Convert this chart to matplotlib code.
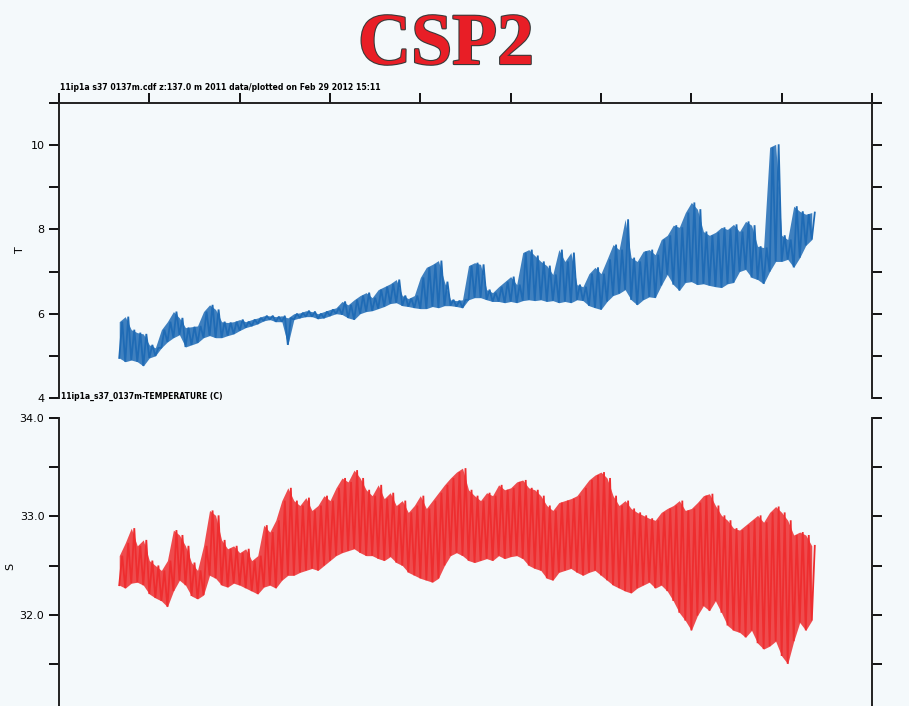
"""Mooring time series at 137 m: temperature (top) and salinity (bottom)."""

import numpy as np
import matplotlib
matplotlib.use('Agg')
import matplotlib.pyplot as plt
import matplotlib.patheffects as pe
from matplotlib.ticker import FixedLocator, FormatStrFormatter

# Sampling: one low/high pair every 2 days, starting day 20 of the record
day = np.arange(116) * 2.0 + 20

# Temperature (C): lower and upper envelope of the tidal signal per sample
t_low = [4.95, 4.86, 4.90, 4.86, 4.76, 4.95, 5.00, 5.19, 5.33, 5.43,
         5.50, 5.21, 5.26, 5.31, 5.43, 5.48, 5.43, 5.43, 5.48, 5.52,
         5.60, 5.67, 5.71, 5.76, 5.83, 5.86, 5.81, 5.81, 5.26, 5.86,
         5.90, 5.93, 5.93, 5.88, 5.90, 5.95, 6.00, 5.98, 5.90, 5.86,
         6.00, 6.05, 6.07, 6.12, 6.17, 6.24, 6.26, 6.19, 6.17, 6.14,
         6.12, 6.12, 6.17, 6.14, 6.19, 6.19, 6.17, 6.14, 6.33, 6.38,
         6.38, 6.33, 6.29, 6.29, 6.26, 6.29, 6.26, 6.31, 6.33, 6.31,
         6.33, 6.29, 6.31, 6.26, 6.29, 6.26, 6.33, 6.31, 6.19, 6.14,
         6.10, 6.29, 6.43, 6.48, 6.57, 6.33, 6.21, 6.33, 6.40, 6.38,
         6.67, 6.93, 6.69, 6.55, 6.74, 6.76, 6.69, 6.71, 6.67, 6.64,
         6.62, 6.71, 6.74, 7.00, 7.05, 6.86, 6.81, 6.71, 7.00, 7.24,
         7.24, 7.29, 7.10, 7.33, 7.62, 7.76]
t_high = [5.81, 5.93, 5.62, 5.55, 5.52, 5.26, 5.19, 5.62, 5.81, 6.05,
          5.90, 5.67, 5.69, 5.71, 6.05, 6.21, 6.10, 5.81, 5.79, 5.81,
          5.86, 5.81, 5.86, 5.90, 5.95, 5.95, 5.93, 5.95, 5.90, 6.00,
          6.02, 6.07, 6.05, 6.00, 6.05, 6.10, 6.14, 6.29, 6.21, 6.33,
          6.43, 6.50, 6.38, 6.57, 6.64, 6.71, 6.81, 6.43, 6.36, 6.43,
          6.86, 7.10, 7.17, 7.26, 6.76, 6.33, 6.31, 6.33, 7.14, 7.21,
          7.17, 6.57, 6.50, 6.64, 6.76, 6.88, 6.69, 7.45, 7.52, 7.38,
          7.24, 7.14, 6.93, 7.52, 7.24, 7.45, 6.69, 6.64, 6.95, 7.10,
          6.95, 7.29, 7.64, 7.52, 8.24, 7.33, 7.24, 7.48, 7.52, 7.40,
          7.76, 7.86, 8.10, 8.05, 8.40, 8.64, 8.48, 7.95, 7.86, 7.93,
          8.05, 8.00, 8.12, 7.95, 8.19, 8.10, 7.60, 7.57, 9.95, 10.02,
          7.86, 7.76, 8.55, 8.43, 8.36, 8.40]

# Salinity: lower and upper envelope per sample
s_low = [32.30, 32.27, 32.32, 32.33, 32.30, 32.21, 32.17, 32.14, 32.08, 32.24,
         32.35, 32.30, 32.19, 32.16, 32.20, 32.40, 32.37, 32.30, 32.28, 32.32,
         32.30, 32.27, 32.24, 32.21, 32.28, 32.30, 32.27, 32.35, 32.40, 32.40,
         32.43, 32.45, 32.47, 32.45, 32.50, 32.55, 32.60, 32.63, 32.65, 32.67,
         32.63, 32.60, 32.60, 32.57, 32.55, 32.59, 32.53, 32.50, 32.43, 32.40,
         32.37, 32.35, 32.33, 32.37, 32.50, 32.60, 32.63, 32.60, 32.55, 32.53,
         32.55, 32.57, 32.55, 32.60, 32.57, 32.59, 32.60, 32.57, 32.50, 32.47,
         32.45, 32.37, 32.35, 32.43, 32.45, 32.47, 32.43, 32.40, 32.43, 32.45,
         32.40, 32.35, 32.30, 32.27, 32.24, 32.22, 32.27, 32.30, 32.33, 32.27,
         32.30, 32.24, 32.14, 32.02, 31.94, 31.84, 31.99, 32.09, 32.04, 32.14,
         32.02, 31.89, 31.84, 31.82, 31.77, 31.84, 31.71, 31.65, 31.68, 31.73,
         31.58, 31.50, 31.73, 31.92, 31.84, 31.94]
s_high = [32.60, 32.73, 32.88, 32.70, 32.76, 32.55, 32.50, 32.45, 32.55, 32.86,
          32.81, 32.70, 32.53, 32.45, 32.70, 33.06, 33.01, 32.76, 32.67, 32.70,
          32.63, 32.67, 32.55, 32.60, 32.91, 32.84, 32.96, 33.16, 33.29, 33.16,
          33.11, 33.19, 33.06, 33.11, 33.21, 33.16, 33.29, 33.39, 33.35, 33.47,
          33.39, 33.27, 33.21, 33.32, 33.18, 33.24, 33.11, 33.16, 33.04, 33.11,
          33.21, 33.08, 33.16, 33.24, 33.32, 33.39, 33.45, 33.49, 33.27, 33.21,
          33.16, 33.24, 33.21, 33.32, 33.27, 33.29, 33.35, 33.37, 33.29, 33.27,
          33.21, 33.11, 33.06, 33.14, 33.16, 33.18, 33.21, 33.29, 33.37, 33.42,
          33.45, 33.39, 33.21, 33.11, 33.16, 33.08, 33.04, 33.01, 32.98, 32.96,
          33.04, 33.08, 33.11, 33.16, 33.06, 33.08, 33.14, 33.21, 33.23, 33.11,
          33.01, 32.96, 32.88, 32.86, 32.91, 32.96, 33.01, 32.94, 33.04, 33.10,
          33.04, 32.96, 32.81, 32.84, 32.81, 32.70]

header = "11ip1a s37 0137m.cdf z:137.0 m 2011 data/plotted on Feb 29 2012 15:11"
var_label = "11ip1a_s37_0137m-TEMPERATURE (C)"

BG = '#f4f9fb'
T_COLOR = '#1f6bb5'
S_COLOR = '#ee2d2f'


def draw_trace(ax, x, lo, hi, color):
    """Shade the low/high envelope and zigzag across it for the tidal swing."""
    ax.fill_between(x, lo, hi, color=color, lw=0, alpha=0.85)
    xs = np.column_stack([x, np.asarray(x) + 1.0]).ravel()
    ys = np.column_stack([lo, hi]).ravel()
    ax.plot(xs, ys, color=color, lw=1.3, solid_joinstyle='bevel')


def style_axis(ax):
    for side in ('left', 'right', 'top', 'bottom'):
        ax.spines[side].set_linewidth(1.4)
        ax.spines[side].set_color('#222222')
    ax.tick_params(which='both', direction='out', length=7, width=1.4,
                   color='#111111', labelsize=8)
    ax.set_facecolor('none')


fig = plt.figure(figsize=(9.09, 7.06), dpi=100, facecolor=BG)

# Temperature panel
ax1 = fig.add_axes([0.0649, 0.4363, 0.8944, 0.4178])
style_axis(ax1)
draw_trace(ax1, day, t_low, t_high, T_COLOR)
ax1.set_xlim(0, 270)
ax1.set_ylim(4, 11)
ax1.spines['bottom'].set_visible(False)
ax1.xaxis.set_major_locator(FixedLocator(np.arange(0, 271, 30)))
ax1.tick_params(axis='x', top=True, bottom=False, labeltop=False, labelbottom=False)
ax1.yaxis.set_major_locator(FixedLocator([4, 6, 8, 10]))
ax1.yaxis.set_minor_locator(FixedLocator([5, 7, 9, 11]))
ax1.tick_params(axis='y', which='both', left=True, right=True, labelright=False)

# Salinity panel (runs off the bottom of the page)
ax2 = fig.add_axes([0.0649, -0.0099, 0.8944, 0.4178])
style_axis(ax2)
draw_trace(ax2, day, s_low, s_high, S_COLOR)
ax2.set_xlim(0, 270)
ax2.set_ylim(31, 34)
ax2.spines['top'].set_visible(False)
ax2.spines['bottom'].set_visible(False)
ax2.set_xticks([])
ax2.yaxis.set_major_locator(FixedLocator([32, 33, 34]))
ax2.yaxis.set_minor_locator(FixedLocator([31, 31.5, 32.5, 33.5]))
ax2.yaxis.set_major_formatter(FormatStrFormatter('%.1f'))
ax2.tick_params(axis='y', which='both', left=True, right=True, labelright=False)

for ax in (ax1, ax2):
    for lab in ax.get_yticklabels():
        lab.set_fontweight('medium')

fig.text(0.022, 1 - 250 / 706, 'T', rotation=90, ha='center', va='center', fontsize=8)
fig.text(0.011, 1 - 566 / 706, 'S', rotation=90, ha='center', va='center', fontsize=8)

fig.text(60 / 909, 1 - 88 / 706, header, ha='left', va='center',
         fontsize=5.6, fontweight='bold')
fig.text(61 / 909, 1 - 396 / 706, var_label, ha='left', va='center',
         fontsize=5.5, fontweight='bold')

title = fig.text(446 / 909, 1 - 64 / 706, 'CSP2', ha='center', va='baseline',
                 fontsize=53, fontweight='bold', color='#e81e26',
                 family=['Liberation Serif', 'DejaVu Serif'])
title.set_path_effects([pe.withStroke(linewidth=1.6, foreground='#3a3a3a')])

fig.savefig('out.png', dpi=100, facecolor=BG)
